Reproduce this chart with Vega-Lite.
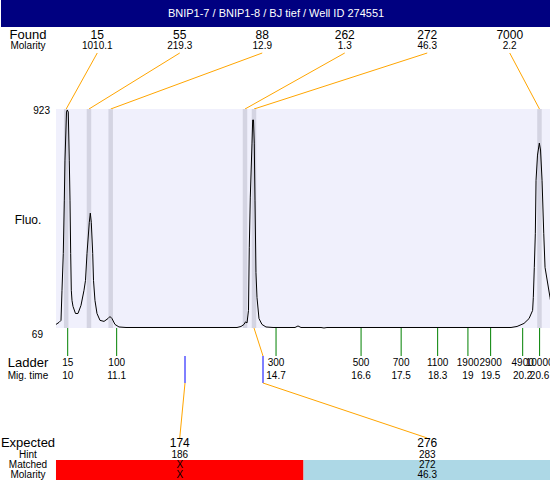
{
  "$schema": "https://vega.github.io/schema/vega-lite/v6.json",
  "padding": 0,
  "spacing": 0,
  "bounds": "flush",
  "config": {
    "view": {"stroke": null},
    "axis": {"disable": true},
    "text": {"font": "Liberation Sans", "fontSize": 10, "baseline": "middle", "align": "center", "color": "#000000"}
  },
  "datasets": {
    "found": [
      {"size": "15", "mol": "1010.1", "slot": 10.664, "peak": 9.966},
      {"size": "55", "mol": "219.3", "slot": 12.517, "peak": 10.478},
      {"size": "88", "mol": "12.9", "slot": 14.37, "peak": 10.966},
      {"size": "262", "mol": "1.3", "slot": 16.223, "peak": 13.983},
      {"size": "272", "mol": "46.3", "slot": 18.076, "peak": 14.185},
      {"size": "7000", "mol": "2.2", "slot": 19.929, "peak": 20.597}
    ],
    "trace": [
      {"t": 9.737, "f": 81}, {"t": 9.805, "f": 89}, {"t": 9.85, "f": 97}, {"t": 9.872, "f": 215},
      {"t": 9.901, "f": 360}, {"t": 9.924, "f": 569}, {"t": 9.939, "f": 726}, {"t": 9.973, "f": 915},
      {"t": 9.991, "f": 923}, {"t": 10.013, "f": 915}, {"t": 10.036, "f": 726}, {"t": 10.052, "f": 569},
      {"t": 10.067, "f": 360}, {"t": 10.081, "f": 215}, {"t": 10.097, "f": 175}, {"t": 10.119, "f": 152},
      {"t": 10.175, "f": 124}, {"t": 10.231, "f": 124}, {"t": 10.299, "f": 156}, {"t": 10.366, "f": 215},
      {"t": 10.4, "f": 254}, {"t": 10.434, "f": 360}, {"t": 10.485, "f": 482}, {"t": 10.508, "f": 518},
      {"t": 10.53, "f": 482}, {"t": 10.562, "f": 360}, {"t": 10.58, "f": 254}, {"t": 10.613, "f": 175},
      {"t": 10.658, "f": 124}, {"t": 10.726, "f": 97}, {"t": 10.816, "f": 93}, {"t": 10.905, "f": 104},
      {"t": 10.95, "f": 112}, {"t": 10.995, "f": 104}, {"t": 11.062, "f": 81}, {"t": 11.152, "f": 71},
      {"t": 11.31, "f": 69}, {"t": 12.545, "f": 69}, {"t": 13.803, "f": 69}, {"t": 13.893, "f": 73},
      {"t": 13.96, "f": 81}, {"t": 13.994, "f": 91}, {"t": 14.028, "f": 87}, {"t": 14.061, "f": 136},
      {"t": 14.079, "f": 384}, {"t": 14.102, "f": 581}, {"t": 14.14, "f": 793}, {"t": 14.155, "f": 884},
      {"t": 14.173, "f": 884}, {"t": 14.191, "f": 793}, {"t": 14.207, "f": 569}, {"t": 14.229, "f": 285},
      {"t": 14.252, "f": 187}, {"t": 14.297, "f": 104}, {"t": 14.364, "f": 81}, {"t": 14.454, "f": 71},
      {"t": 14.612, "f": 69}, {"t": 15.106, "f": 69}, {"t": 15.173, "f": 75}, {"t": 15.24, "f": 69},
      {"t": 15.69, "f": 69}, {"t": 15.757, "f": 67}, {"t": 15.824, "f": 69}, {"t": 19.958, "f": 69},
      {"t": 20.093, "f": 73}, {"t": 20.25, "f": 85}, {"t": 20.363, "f": 104}, {"t": 20.443, "f": 136},
      {"t": 20.459, "f": 187}, {"t": 20.481, "f": 305}, {"t": 20.504, "f": 439}, {"t": 20.52, "f": 647},
      {"t": 20.553, "f": 746}, {"t": 20.594, "f": 793}, {"t": 20.621, "f": 766}, {"t": 20.655, "f": 647},
      {"t": 20.693, "f": 439}, {"t": 20.722, "f": 305}, {"t": 20.834, "f": 187}, {"t": 20.856, "f": 163}
    ],
    "ladder": [
      {"size": "15", "mig": "10", "t": 10.0},
      {"size": "100", "mig": "11.1", "t": 11.1},
      {"size": "300", "mig": "14.7", "t": 14.68},
      {"size": "500", "mig": "16.6", "t": 16.59},
      {"size": "700", "mig": "17.5", "t": 17.49},
      {"size": "1100", "mig": "18.3", "t": 18.31},
      {"size": "1900", "mig": "19", "t": 18.99},
      {"size": "2900", "mig": "19.5", "t": 19.5},
      {"size": "4900", "mig": "20.2", "t": 20.22},
      {"size": "10000", "mig": "20.6", "t": 20.6}
    ],
    "expected": [
      {"exp": "174", "hint": "186", "matched": "X", "mol": "X", "et": 12.635, "slot": 12.517, "from": 9.737, "to": 15.297, "peak": null, "status": "unmatched"},
      {"exp": "276", "hint": "283", "matched": "272", "mol": "46.3", "et": 14.387, "slot": 18.076, "from": 15.297, "to": 20.856, "peak": 14.185, "status": "matched"}
    ]
  },
  "resolve": {"scale": {"y": "independent"}},
  "vconcat": [
    {
      "width": 550, "height": 27,
      "view": {"fill": "#000080", "stroke": null},
      "data": {"values": [{"title": "BNIP1-7 / BNIP1-8 / BJ tief / Well ID 274551"}]},
      "mark": {"type": "text", "color": "#ffffff", "fontSize": 11},
      "encoding": {
        "x": {"datum": 14.679, "type": "quantitative", "scale": {"domain": [8.502, 20.856], "nice": false, "zero": false}},
        "y": {"datum": 14, "type": "quantitative", "scale": {"domain": [0, 27], "reverse": true, "nice": false, "zero": false}},
        "text": {"field": "title"}
      }
    },
    {
      "width": 550, "height": 82,
      "layer": [
        {
          "data": {"name": "found"},
          "mark": {"type": "rule", "color": "#ffa500", "strokeWidth": 1},
          "encoding": {
            "x": {"field": "slot", "type": "quantitative", "scale": {"domain": [8.502, 20.856], "nice": false, "zero": false}},
            "x2": {"field": "peak"},
            "y": {"datum": 26, "type": "quantitative", "scale": {"domain": [0, 82], "reverse": true, "nice": false, "zero": false}},
            "y2": {"datum": 82}
          }
        },
        {
          "data": {"name": "found"},
          "mark": {"type": "text", "fontSize": 12},
          "encoding": {"x": {"field": "slot", "type": "quantitative"}, "y": {"datum": 8, "type": "quantitative"}, "text": {"field": "size"}}
        },
        {
          "data": {"name": "found"},
          "mark": {"type": "text", "fontSize": 10},
          "encoding": {"x": {"field": "slot", "type": "quantitative"}, "y": {"datum": 19, "type": "quantitative"}, "text": {"field": "mol"}}
        },
        {
          "data": {"values": [{"lab": "Found"}]},
          "mark": {"type": "text", "fontSize": 13},
          "encoding": {"x": {"datum": 9.108, "type": "quantitative"}, "y": {"datum": 8, "type": "quantitative"}, "text": {"field": "lab"}}
        },
        {
          "data": {"values": [{"lab": "Molarity"}]},
          "mark": {"type": "text", "fontSize": 10},
          "encoding": {"x": {"datum": 9.108, "type": "quantitative"}, "y": {"datum": 19, "type": "quantitative"}, "text": {"field": "lab"}}
        }
      ]
    },
    {
      "width": 550, "height": 219,
      "layer": [
        {
          "data": {"values": [{}]},
          "mark": {"type": "rect", "color": "#f0f0fc"},
          "encoding": {
            "x": {"datum": 9.737, "type": "quantitative", "scale": {"domain": [8.502, 20.856], "nice": false, "zero": false}},
            "x2": {"datum": 20.856},
            "y": {"datum": 927, "type": "quantitative", "scale": {"domain": [67, 927], "nice": false, "zero": false}},
            "y2": {"datum": 67}
          }
        },
        {
          "data": {"name": "found"},
          "mark": {"type": "rule", "color": "#d4d4e2", "strokeWidth": 4.5},
          "encoding": {"x": {"field": "peak", "type": "quantitative"}}
        },
        {
          "data": {"name": "trace"},
          "mark": {"type": "line", "color": "#000000", "strokeWidth": 1},
          "encoding": {"x": {"field": "t", "type": "quantitative"}, "y": {"field": "f", "type": "quantitative"}}
        },
        {
          "data": {"values": [{"lab": "923"}]},
          "mark": {"type": "text", "fontSize": 10, "align": "right"},
          "encoding": {"x": {"datum": 9.602, "type": "quantitative"}, "y": {"datum": 919, "type": "quantitative"}, "text": {"field": "lab"}}
        },
        {
          "data": {"values": [{"lab": "69"}]},
          "mark": {"type": "text", "fontSize": 10, "align": "right"},
          "encoding": {"x": {"datum": 9.445, "type": "quantitative"}, "y": {"datum": 39.5, "type": "quantitative"}, "text": {"field": "lab"}}
        },
        {
          "data": {"values": [{"lab": "Fluo."}]},
          "mark": {"type": "text", "fontSize": 12},
          "encoding": {"x": {"datum": 9.108, "type": "quantitative"}, "y": {"datum": 491, "type": "quantitative"}, "text": {"field": "lab"}}
        }
      ]
    },
    {
      "width": 550, "height": 112,
      "layer": [
        {
          "data": {"name": "ladder"},
          "mark": {"type": "rule", "color": "#008000", "strokeWidth": 1},
          "encoding": {
            "x": {"field": "t", "type": "quantitative", "scale": {"domain": [8.502, 20.856], "nice": false, "zero": false}},
            "y": {"datum": 0, "type": "quantitative", "scale": {"domain": [0, 112], "reverse": true, "nice": false, "zero": false}},
            "y2": {"datum": 28}
          }
        },
        {
          "data": {"name": "ladder"},
          "mark": {"type": "text", "fontSize": 10},
          "encoding": {"x": {"field": "t", "type": "quantitative"}, "y": {"datum": 35, "type": "quantitative"}, "text": {"field": "size"}}
        },
        {
          "data": {"name": "ladder"},
          "mark": {"type": "text", "fontSize": 10},
          "encoding": {"x": {"field": "t", "type": "quantitative"}, "y": {"datum": 48, "type": "quantitative"}, "text": {"field": "mig"}}
        },
        {
          "data": {"values": [{"lab": "Ladder"}]},
          "mark": {"type": "text", "fontSize": 13},
          "encoding": {"x": {"datum": 9.108, "type": "quantitative"}, "y": {"datum": 35, "type": "quantitative"}, "text": {"field": "lab"}}
        },
        {
          "data": {"values": [{"lab": "Mig. time"}]},
          "mark": {"type": "text", "fontSize": 10},
          "encoding": {"x": {"datum": 9.108, "type": "quantitative"}, "y": {"datum": 48, "type": "quantitative"}, "text": {"field": "lab"}}
        },
        {
          "data": {"name": "expected"},
          "mark": {"type": "rule", "color": "#0000ff", "strokeWidth": 1},
          "encoding": {"x": {"field": "et", "type": "quantitative"}, "y": {"datum": 28, "type": "quantitative"}, "y2": {"datum": 55}}
        },
        {
          "data": {"name": "expected"},
          "transform": [{"filter": "isValid(datum.peak)"}],
          "mark": {"type": "rule", "color": "#ffa500", "strokeWidth": 1},
          "encoding": {"x": {"field": "peak", "type": "quantitative"}, "x2": {"field": "et"}, "y": {"datum": 0, "type": "quantitative"}, "y2": {"datum": 28}}
        },
        {
          "data": {"name": "expected"},
          "mark": {"type": "rule", "color": "#ffa500", "strokeWidth": 1},
          "encoding": {"x": {"field": "et", "type": "quantitative"}, "x2": {"field": "slot"}, "y": {"datum": 55, "type": "quantitative"}, "y2": {"datum": 110}}
        }
      ]
    },
    {
      "width": 550, "height": 40,
      "layer": [
        {
          "data": {"name": "expected"},
          "mark": {"type": "rect"},
          "encoding": {
            "x": {"field": "from", "type": "quantitative", "scale": {"domain": [8.502, 20.856], "nice": false, "zero": false}},
            "x2": {"field": "to"},
            "y": {"datum": 20, "type": "quantitative", "scale": {"domain": [0, 40], "reverse": true, "nice": false, "zero": false}},
            "y2": {"datum": 40},
            "color": {"field": "status", "type": "nominal", "scale": {"domain": ["unmatched", "matched"], "range": ["#ff0000", "#add8e6"]}, "legend": null}
          }
        },
        {
          "data": {"name": "expected"},
          "mark": {"type": "text", "fontSize": 12},
          "encoding": {"x": {"field": "slot", "type": "quantitative"}, "y": {"datum": 3, "type": "quantitative"}, "text": {"field": "exp"}}
        },
        {
          "data": {"name": "expected"},
          "mark": {"type": "text", "fontSize": 10},
          "encoding": {"x": {"field": "slot", "type": "quantitative"}, "y": {"datum": 15, "type": "quantitative"}, "text": {"field": "hint"}}
        },
        {
          "data": {"name": "expected"},
          "mark": {"type": "text", "fontSize": 10},
          "encoding": {"x": {"field": "slot", "type": "quantitative"}, "y": {"datum": 25, "type": "quantitative"}, "text": {"field": "matched"}}
        },
        {
          "data": {"name": "expected"},
          "mark": {"type": "text", "fontSize": 10},
          "encoding": {"x": {"field": "slot", "type": "quantitative"}, "y": {"datum": 35, "type": "quantitative"}, "text": {"field": "mol"}}
        },
        {
          "data": {"values": [{"lab": "Expected"}]},
          "mark": {"type": "text", "fontSize": 13},
          "encoding": {"x": {"datum": 9.108, "type": "quantitative"}, "y": {"datum": 3, "type": "quantitative"}, "text": {"field": "lab"}}
        },
        {
          "data": {"values": [{"lab": "Hint"}]},
          "mark": {"type": "text", "fontSize": 10},
          "encoding": {"x": {"datum": 9.108, "type": "quantitative"}, "y": {"datum": 15, "type": "quantitative"}, "text": {"field": "lab"}}
        },
        {
          "data": {"values": [{"lab": "Matched"}]},
          "mark": {"type": "text", "fontSize": 10},
          "encoding": {"x": {"datum": 9.108, "type": "quantitative"}, "y": {"datum": 25, "type": "quantitative"}, "text": {"field": "lab"}}
        },
        {
          "data": {"values": [{"lab": "Molarity"}]},
          "mark": {"type": "text", "fontSize": 10},
          "encoding": {"x": {"datum": 9.108, "type": "quantitative"}, "y": {"datum": 35, "type": "quantitative"}, "text": {"field": "lab"}}
        }
      ]
    }
  ]
}
